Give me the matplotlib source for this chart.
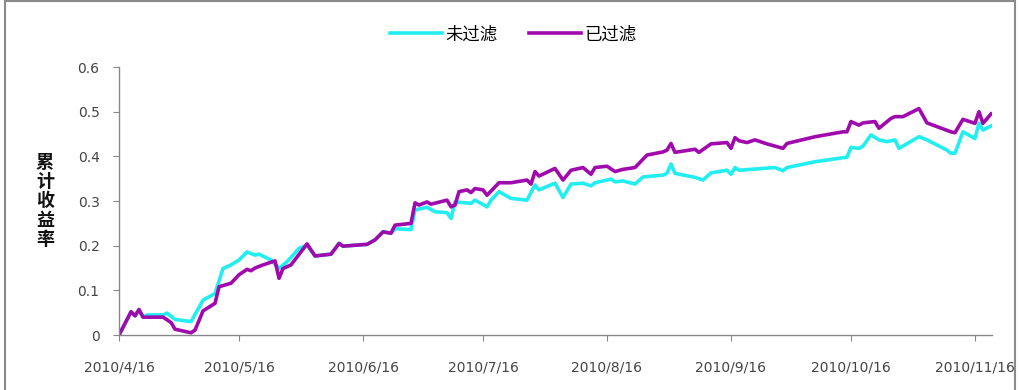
import numpy as np
import matplotlib
matplotlib.use("Agg")
import matplotlib.pyplot as plt
import matplotlib.dates as mdates
from matplotlib.patches import Rectangle

plt.rcParams['font.family'] = ['Noto Sans CJK SC', 'DejaVu Sans']

# days after 2010/4/16 and cumulative return
start = np.datetime64('2010-04-16')

raw_days = [0, 3, 4, 5, 6, 7, 11, 12, 14, 18, 21, 24, 26, 28, 30, 32, 34, 35, 38,
            40, 42, 45, 47, 49, 53, 55, 56, 62, 64, 66, 68, 69, 73, 74, 77, 79,
            82, 83, 84, 88, 89, 92, 93, 95, 98, 102, 104, 105, 109, 111, 113,
            116, 118, 119, 123, 124, 126, 129, 131, 136, 137, 138, 139, 144,
            146, 148, 152, 153, 154, 155, 164, 166, 167, 174, 181, 182, 183,
            185, 186, 188, 190, 192, 194, 195, 200, 202, 207, 208, 209, 211,
            214, 215, 216, 218]
raw_vals = [0.0, 0.052, 0.043, 0.057, 0.040, 0.045, 0.045, 0.049, 0.035, 0.030,
            0.078, 0.093, 0.149, 0.157, 0.168, 0.186, 0.179, 0.181, 0.168,
            0.149, 0.164, 0.194, 0.201, 0.177, 0.181, 0.205, 0.199, 0.203,
            0.213, 0.231, 0.228, 0.238, 0.236, 0.280, 0.286, 0.276, 0.274,
            0.261, 0.298, 0.295, 0.302, 0.287, 0.302, 0.321, 0.306, 0.302,
            0.336, 0.325, 0.340, 0.308, 0.338, 0.340, 0.334, 0.341, 0.349,
            0.343, 0.345, 0.338, 0.354, 0.358, 0.362, 0.383, 0.362, 0.353,
            0.347, 0.363, 0.369, 0.360, 0.375, 0.369, 0.375, 0.368, 0.375,
            0.388, 0.397, 0.398, 0.420, 0.418, 0.423, 0.448, 0.437, 0.433,
            0.437, 0.418, 0.444, 0.437, 0.414, 0.407, 0.407, 0.455, 0.440,
            0.474, 0.459, 0.468]

flt_days = [0, 3, 4, 5, 6, 11, 13, 14, 18, 19, 21, 24, 25, 28, 30, 32, 33, 34,
            36, 39, 40, 41, 43, 47, 49, 53, 55, 56, 62, 64, 66, 68, 69, 73, 74,
            75, 77, 78, 82, 83, 84, 85, 87, 88, 89, 91, 92, 95, 98, 102, 103,
            104, 105, 109, 111, 113, 116, 118, 119, 122, 124, 126, 129, 132,
            136, 137, 138, 139, 144, 145, 148, 152, 153, 154, 155, 157, 159,
            162, 166, 167, 174, 181, 182, 183, 185, 186, 189, 190, 193, 194,
            196, 200, 202, 208, 209, 211, 214, 215, 216, 218]
flt_vals = [0.0, 0.052, 0.043, 0.057, 0.040, 0.040, 0.028, 0.013, 0.005, 0.011,
            0.054, 0.071, 0.108, 0.116, 0.135, 0.147, 0.144, 0.150, 0.157,
            0.166, 0.127, 0.149, 0.157, 0.204, 0.177, 0.181, 0.205, 0.199,
            0.203, 0.213, 0.231, 0.228, 0.246, 0.250, 0.296, 0.291, 0.298,
            0.293, 0.302, 0.287, 0.291, 0.321, 0.325, 0.319, 0.328, 0.325,
            0.313, 0.341, 0.341, 0.347, 0.338, 0.366, 0.356, 0.373, 0.347,
            0.369, 0.375, 0.360, 0.375, 0.378, 0.366, 0.371, 0.375, 0.403,
            0.410, 0.414, 0.429, 0.409, 0.416, 0.409, 0.428, 0.431, 0.418,
            0.442, 0.435, 0.431, 0.437, 0.428, 0.418, 0.429, 0.444, 0.455,
            0.455, 0.478, 0.470, 0.475, 0.478, 0.463, 0.485, 0.489, 0.489,
            0.507, 0.475, 0.455, 0.453, 0.483, 0.474, 0.500, 0.474, 0.495]

tick_dates = ['2010-04-16', '2010-05-16', '2010-06-16', '2010-07-16',
              '2010-08-16', '2010-09-16', '2010-10-16', '2010-11-16']
y_ticks = [0, 0.1, 0.2, 0.3, 0.4, 0.5, 0.6]
y_tick_labels = ['0', '0.1', '0.2', '0.3', '0.4', '0.5', '0.6']

raw_x = start + np.array(raw_days).astype('timedelta64[D]')
flt_x = start + np.array(flt_days).astype('timedelta64[D]')

fig = plt.figure(figsize=(10.2, 3.9), dpi=100)
ax = fig.add_axes([0.1167, 0.141, 0.8558, 0.687])

ax.plot(raw_x, raw_vals, color='#22EEF0', lw=2.6, label='未过滤', solid_joinstyle='round')
ax.plot(flt_x, flt_vals, color='#A00AAC', lw=2.6, label='已过滤', solid_joinstyle='round')

ax.set_ylim(0, 0.6)
ax.set_xlim(start, start + np.timedelta64(218, 'D') + np.timedelta64(6, 'h'))
ax.set_yticks(y_ticks)
ax.set_yticklabels(y_tick_labels)
ticks = [np.datetime64(d) for d in tick_dates]
ax.set_xticks(ticks)
ax.set_xticklabels([mdates.num2date(mdates.date2num(t)).strftime('%Y/%-m/%d').replace('/0', '/')
                    for t in ticks])

for s in ['top', 'right']:
    ax.spines[s].set_visible(False)
for s in ['left', 'bottom']:
    ax.spines[s].set_color('#888888')
    ax.spines[s].set_linewidth(1.0)
ax.tick_params(axis='both', colors='#888888', labelcolor='#444444',
               labelsize=10, direction='out', length=4)
ax.tick_params(axis='x', pad=14)
ax.tick_params(axis='y', pad=10)
for lab in ax.get_xticklabels() + ax.get_yticklabels():
    lab.set_family('DejaVu Sans')

fig.text(0.044, 0.485, '累\n计\n收\n益\n率', fontsize=13, fontweight='bold',
         ha='center', va='center', linespacing=1.02, color='#111111')

fig.legend(loc='upper center', bbox_to_anchor=(0.503, 0.975), ncol=2,
           frameon=False, fontsize=12.5, handlelength=3.0, handletextpad=0.2,
           columnspacing=1.8)

fig.patches.append(Rectangle((0.005, -0.02), 0.99, 1.017, transform=fig.transFigure,
                             fill=False, edgecolor='#8a8a8a', lw=1.5))

fig.savefig('out.png', dpi=100)
